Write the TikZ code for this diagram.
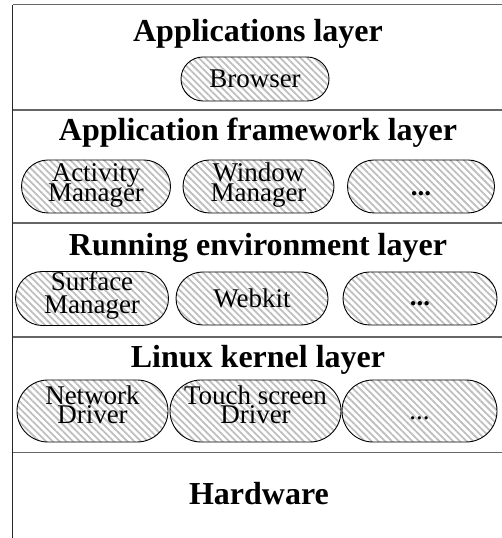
\documentclass[tikz,border=0pt]{standalone}
\usepackage{fontspec}
\setmainfont{Liberation Serif}
\usetikzlibrary{shapes.misc,patterns.meta}
\newcommand\pillfont[1]{\fontsize{27}{#1}\selectfont\lineskiplimit=-60pt\relax}
\newcommand\up[1]{\rule{0pt}{#1}}
\newcommand\dn[1]{\rule[-#1]{0pt}{#1}}
\tikzset{
  pill/.style={draw=black, line width=0.9pt, rounded rectangle, inner sep=0pt, align=center,
    pattern={Lines[angle=-45,distance=4.8pt,line width=1.8pt]}, pattern color=gray!50,
    font={\pillfont{20pt}}},
  title/.style={anchor=base, font={\fontsize{32}{36}\selectfont\bfseries}, inner sep=0pt},
  sep/.style={draw=black!60, line width=1.6pt},
  frame/.style={draw=black!85, line width=1.1pt},
}
\begin{document}
\begin{tikzpicture}[x=1pt,y=1pt]
\useasboundingbox (0,0) rectangle (502,538);
% separators
\draw[sep] (12.7,533.3) -- (502,533.3);
\draw[sep] (12.7,428) -- (502,428);
\draw[sep] (12.7,314.7) -- (502,314.7);
\draw[sep] (12.7,200.7) -- (502,200.7);
\draw[sep] (12.7,85.3) -- (502,85.3);
\draw[frame] (12.7,533.3) -- (12.7,0);
% titles
\node[title] (t1) at (258,496.3) {Applications layer};
\node[title] (t2) at (258,397) {Application framework layer};
\node[title] (t3) at (258,282) {Running environment layer};
\node[title] (t4) at (258,170.7) {Linux kernel layer};
\node[title] (t5) at (259,33) {Hardware};
% row 1
\node[pill, minimum width=148pt, minimum height=44pt] (browser) at (255,459) {\up{16.6pt}Browser};
% row 2
\node[pill, minimum width=149pt, minimum height=53pt] (am) at (96,351.5) {\up{19pt}Activity\\Manager\dn{8pt}};
\node[pill, minimum width=151pt, minimum height=53pt] (wm) at (258.5,351.5) {\up{19pt}Window\\Manager\dn{8pt}};
\node[pill, minimum width=147pt, minimum height=53pt] (fdots) at (421,351.5) {\up{18pt}\textbf{...}};
% row 3
\node[pill, minimum width=153pt, minimum height=53pt, font={\pillfont{22.5pt}}] (sm) at (92,239.5) {\up{19pt}Surface\\Manager\dn{12.5pt}};
\node[pill, minimum width=152pt, minimum height=53pt] (webkit) at (252,239.5) {\up{15pt}Webkit};
\node[pill, minimum width=154pt, minimum height=53pt] (rdots) at (420,239.5) {\up{14pt}\textbf{...}};
% row 4
\node[pill, minimum width=151pt, minimum height=62pt, font={\pillfont{18.5pt}}] (nd) at (92.5,127) {\up{19pt}Network\\Driver\dn{12.5pt}};
\node[pill, minimum width=171pt, minimum height=62pt, font={\pillfont{18.5pt}}] (td) at (255.5,127) {\up{19pt}Touch screen\\Driver\dn{12.5pt}};
\node[pill, minimum width=155pt, minimum height=62pt] (kdots) at (419.5,127) {\up{17pt}...};
\end{tikzpicture}
\end{document}
